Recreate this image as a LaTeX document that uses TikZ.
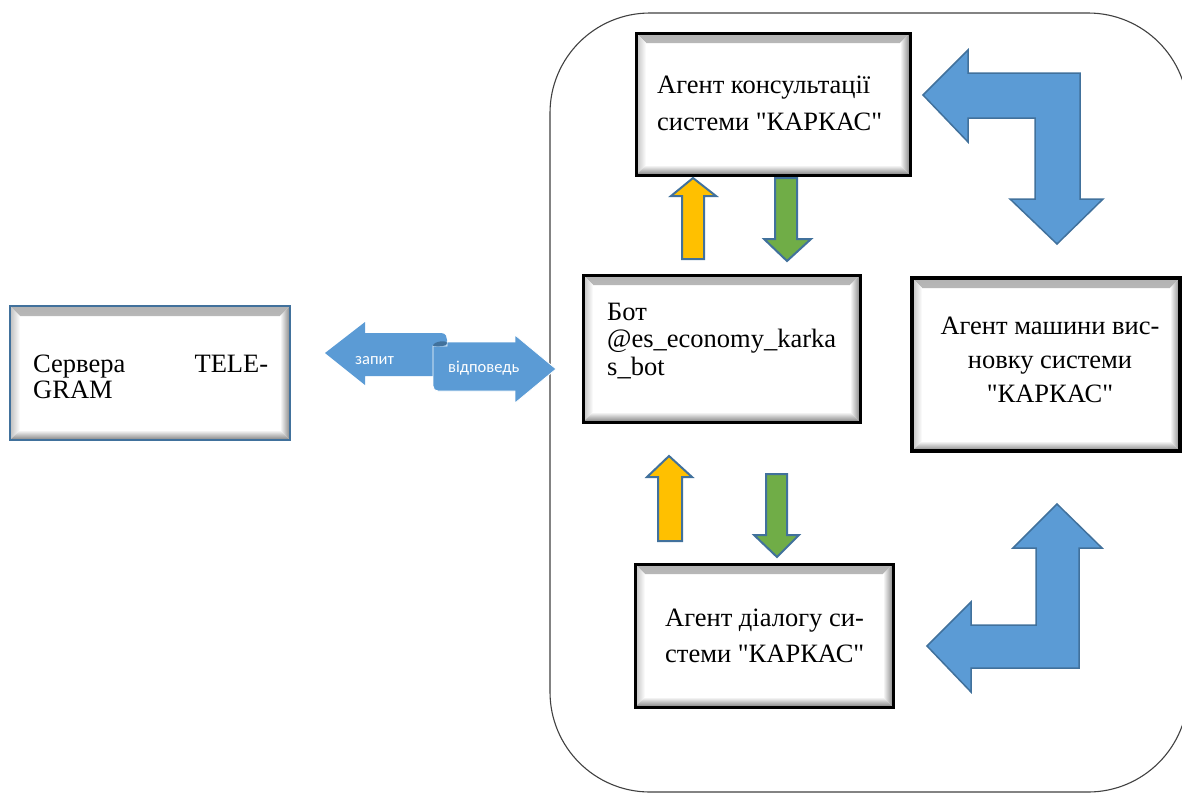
\documentclass[tikz,border=0pt]{standalone}
\usepackage{fontspec}
\setmainfont{Liberation Serif}
\newfontfamily\tnr{Liberation Serif}
\newfontfamily\calib{Carlito}
\definecolor{ablue}{HTML}{5B9BD5}
\definecolor{astroke}{HTML}{41719C}
\definecolor{ayellow}{HTML}{FFC000}
\definecolor{agreen}{HTML}{70AD47}
\definecolor{frameline}{HTML}{404040}
\tikzset{
  bevelbox/.style={rectangle, inner sep=0pt, fill=white, draw=black, line width=3pt,
    path picture={
      \shade[top color=gray!60, bottom color=white]
        (path picture bounding box.north west) -- (path picture bounding box.north east)
        -- ([shift={(-10pt,-10pt)}]path picture bounding box.north east)
        -- ([shift={(10pt,-10pt)}]path picture bounding box.north west) -- cycle;
      \shade[left color=gray!50, right color=white]
        (path picture bounding box.north west) -- (path picture bounding box.south west)
        -- ([shift={(10pt,10pt)}]path picture bounding box.south west)
        -- ([shift={(10pt,-10pt)}]path picture bounding box.north west) -- cycle;
      \shade[left color=white, right color=gray!95]
        (path picture bounding box.north east) -- (path picture bounding box.south east)
        -- ([shift={(-10pt,10pt)}]path picture bounding box.south east)
        -- ([shift={(-10pt,-10pt)}]path picture bounding box.north east) -- cycle;
      \shade[top color=white, bottom color=gray!100]
        (path picture bounding box.south west) -- (path picture bounding box.south east)
        -- ([shift={(-10pt,10pt)}]path picture bounding box.south east)
        -- ([shift={(10pt,10pt)}]path picture bounding box.south west) -- cycle;
    }},
  boxtext/.style={inner sep=0pt, font={\tnr\fontsize{26.5}{#1}\selectfont}},
  bigarrow/.style={fill=ablue, draw=astroke, line width=1.5pt, line join=miter},
  uparrow/.style={fill=ayellow, draw=astroke, line width=2pt, line join=miter},
  downarrow/.style={fill=agreen, draw=astroke, line width=2pt, line join=miter},
  scrollpart/.style={fill=ablue, draw=white, line width=0.8pt},
  scrolltext/.style={text=white, inner sep=0pt, font={\calib\fontsize{16.5}{18}\selectfont}},
}
\begin{document}
\begin{tikzpicture}[x=1pt,y=-1pt]
\useasboundingbox (0,0) rectangle (1182,793);
% system frame
\draw[frameline, line width=1.1pt, rounded corners=100pt] (550,13) rectangle (1188,792);

% boxes
\node[bevelbox, draw=astroke, line width=2.2pt, minimum width=280pt, minimum height=134pt] (tg) at (150,373) {};
\node[bevelbox, minimum width=274pt, minimum height=142pt] (cons) at (773,104) {};
\node[bevelbox, minimum width=277pt, minimum height=147pt] (bot) at (721.5,348.5) {};
\node[bevelbox, line width=4pt, minimum width=268pt, minimum height=173pt] (inf) at (1046,364.5) {};
\node[bevelbox, minimum width=258pt, minimum height=143pt] (dlg) at (764,635.5) {};

% texts (base anchor = baseline of the last line)
\node[boxtext=26, anchor=base west, align=left] (tgtext) at (33,398)
  {\hbox to 235pt{Сервера\hfill TELE-}\\GRAM};
\node[boxtext=37, anchor=base west, align=left] (constext) at (657,130)
  {Агент консультації\\системи "КАРКАС"};
\node[boxtext=27.5, anchor=base west, align=left] (bottext) at (607,375)
  {Бот\\@es\_economy\_karka\\s\_bot};
\node[boxtext=34, anchor=base, align=center] (inftext) at (1050,402)
  {Агент машини вис-\\новку системи\\"КАРКАС"};
\node[boxtext=36, anchor=base west, align=left] (dlgtext) at (665,662)
  {Агент діалогу си-\\стеми "КАРКАС"};

% bent arrows
\draw[bigarrow] (923,95) -- (968,50) -- (968,73) -- (1080,73) -- (1080,199) -- (1103,199)
  -- (1057,244) -- (1010,199) -- (1035,199) -- (1035,118) -- (968,118) -- (968,142) -- cycle;
\draw[bigarrow] (1057,504) -- (1102,548) -- (1079,548) -- (1079,668) -- (971,668) -- (971,692)
  -- (927,646) -- (971,602) -- (971,625) -- (1036,625) -- (1036,548) -- (1013,548) -- cycle;

% small arrows
\draw[uparrow] (693,178) -- (716,196) -- (704,196) -- (704,259) -- (682,259) -- (682,196) -- (671,196) -- cycle;
\draw[downarrow] (775,178) -- (797,178) -- (797,239) -- (811,239) -- (787,261) -- (764,239) -- (775,239) -- cycle;
\draw[uparrow] (669,456) -- (692,477) -- (682,477) -- (682,541) -- (658,541) -- (658,477) -- (647,477) -- cycle;
\draw[downarrow] (766,474) -- (787,474) -- (787,535) -- (799,535) -- (777,557) -- (754,535) -- (766,535) -- cycle;

% request / response scroll arrow
\fill[ablue] (325,353) -- (365,322) -- (365,333) -- (441,333)
  .. controls (446,333) and (447,337) .. (447,340) -- (447,376) -- (365,376) -- (365,385) -- cycle;
\draw[scrollpart] (433,346) -- (433,386) .. controls (433,389) and (435,391) .. (438,391)
  -- (515,391) -- (515,403) -- (556,369) -- (515,335) -- (515,342) -- (447,342)
  -- (447,346) -- cycle;
\fill[astroke] (433,346) .. controls (433,341) and (447,340) .. (447,343)
  .. controls (447,346) and (440,347) .. (433,346) -- cycle;
\node[scrolltext, anchor=base west] (zapyt) at (355,364) {запит};
\node[scrolltext, anchor=base west] (vidpoved) at (448,372) {відповедь};
\end{tikzpicture}
\end{document}
